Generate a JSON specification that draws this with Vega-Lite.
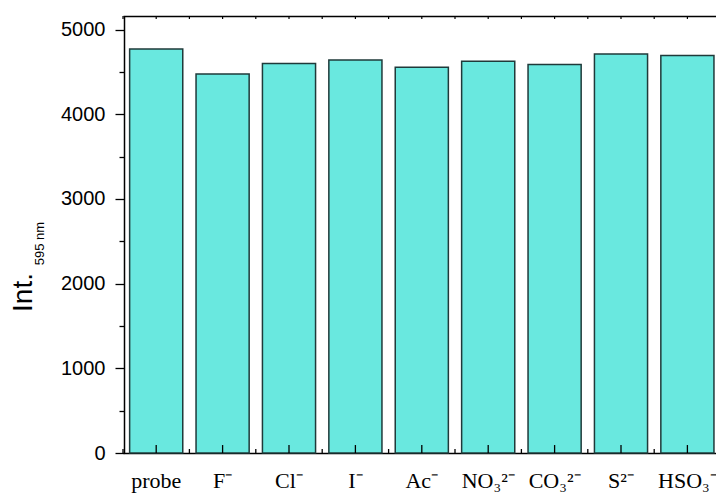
{
  "$schema": "https://vega.github.io/schema/vega-lite/v6.json",
  "width": 592,
  "height": 437,
  "autosize": {"type": "none"},
  "padding": {"left": 124, "top": 16, "right": 0, "bottom": 42},
  "background": "white",
  "config": {
    "view": {"stroke": null},
    "axis": {
      "domainColor": "black",
      "tickColor": "black",
      "labelColor": "black",
      "titleColor": "black",
      "grid": false,
      "domainWidth": 1.5,
      "tickWidth": 1.3,
      "zindex": 2
    }
  },
  "data": {
    "values": [
      {"anion": "probe", "intensity": 4770},
      {"anion": "F⁻", "intensity": 4475},
      {"anion": "Cl⁻", "intensity": 4600},
      {"anion": "I⁻", "intensity": 4640},
      {"anion": "Ac⁻", "intensity": 4555},
      {"anion": "NO₃²⁻", "intensity": 4625},
      {"anion": "CO₃²⁻", "intensity": 4588},
      {"anion": "S²⁻", "intensity": 4710},
      {"anion": "HSO₃⁻", "intensity": 4695}
    ]
  },
  "layer": [
    {
      "mark": {"type": "bar", "fill": "#69e8df", "stroke": "#1f3a3a", "strokeWidth": 1.5},
      "encoding": {
        "x": {
          "field": "anion", "type": "nominal", "sort": null,
          "scale": {"range": [-1, 596.6], "paddingInner": 0.2, "paddingOuter": 0.1},
          "axis": {
            "orient": "bottom", "title": null, "labelAngle": 0,
            "labelFont": "Liberation Serif", "labelFontSize": 22,
            "labelFontWeight": "normal",
            "ticks": false, "labelPadding": 34,
            "labelBaseline": "alphabetic"
          }
        },
        "y": {
          "field": "intensity", "type": "quantitative",
          "scale": {"domain": [0, 5160], "nice": false},
          "axis": {
            "orient": "left", "values": [0, 1000, 2000, 3000, 4000, 5000],
            "format": "d",
            "tickSize": 9, "labelFont": "Liberation Sans", "labelFontSize": 20,
            "labelFontWeight": "normal", "labelPadding": 10,
            "title": "Int.", "titleFont": "Liberation Sans", "titleFontSize": 28,
            "titleFontWeight": "normal", "titleX": -93, "titleY": 276,
            "titleAngle": 270, "titleBaseline": "alphabetic", "titleAlign": "center"
          }
        }
      }
    },
    {
      "mark": {"type": "rule", "color": "black", "strokeWidth": 1.3},
      "encoding": {
        "x": {
          "field": "anion", "type": "nominal", "sort": null,
          "scale": {"range": [-1, 596.6], "paddingInner": 0.2, "paddingOuter": 0.1},
          "axis": {
            "orient": "top", "ticks": false, "labels": false, "title": null, "domain": true
          }
        },
        "y": {
          "datum": 0, "type": "quantitative",
          "scale": {"domain": [0, 5160], "nice": false},
          "axis": {
            "orient": "left", "values": [500, 1500, 2500, 3500, 4500],
            "tickSize": 5, "labels": false, "domain": false,
            "title": "595 nm", "titleFont": "Liberation Sans", "titleFontSize": 13,
            "titleFontWeight": "normal", "titleX": -81, "titleY": 227,
            "titleAngle": 270, "titleBaseline": "alphabetic", "titleAlign": "center"
          }
        },
        "y2": {"datum": 94}
      }
    },
    {
      "mark": {"type": "rule", "color": "black", "strokeWidth": 1.3},
      "encoding": {
        "x": {
          "field": "anion", "type": "nominal", "sort": null, "bandPosition": -0.125,
          "scale": {"range": [-1, 596.6], "paddingInner": 0.2, "paddingOuter": 0.1},
          "axis": null
        },
        "y": {
          "datum": 0, "type": "quantitative",
          "scale": {"domain": [0, 5160], "nice": false},
          "axis": null
        },
        "y2": {"datum": 47}
      }
    },
    {
      "mark": {"type": "rule", "color": "black", "strokeWidth": 1.2},
      "encoding": {
        "x": {
          "field": "anion", "type": "nominal", "sort": null,
          "scale": {"range": [-1, 596.6], "paddingInner": 0.2, "paddingOuter": 0.1},
          "axis": null
        },
        "y": {
          "datum": 5160, "type": "quantitative",
          "scale": {"domain": [0, 5160], "nice": false},
          "axis": null
        },
        "y2": {"datum": 5125}
      }
    },
    {
      "mark": {"type": "rule", "color": "black", "strokeWidth": 1.2},
      "encoding": {
        "x": {
          "field": "anion", "type": "nominal", "sort": null, "bandPosition": -0.125,
          "scale": {"range": [-1, 596.6], "paddingInner": 0.2, "paddingOuter": 0.1},
          "axis": null
        },
        "y": {
          "datum": 5160, "type": "quantitative",
          "scale": {"domain": [0, 5160], "nice": false},
          "axis": null
        },
        "y2": {"datum": 5125}
      }
    }
  ],
  "resolve": {"axis": {"x": "independent", "y": "independent"}}
}
